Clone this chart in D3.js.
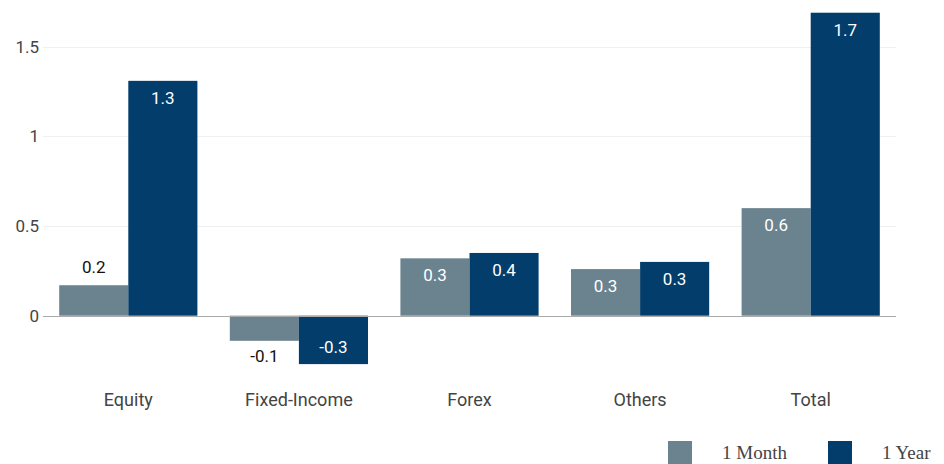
<!DOCTYPE html>
<html>
<head>
<meta charset="utf-8">
<script src="https://cdn.jsdelivr.net/npm/d3@7"></script>
<style>
  body { margin: 0; background: #fff; }
  svg { display: block; }
</style>
</head>
<body>
<svg></svg>
<script>
// chart data
const categories = ["Equity", "Fixed-Income", "Forex", "Others", "Total"];
const seriesNames = ["1 Month", "1 Year"];
const oneMonth = [0.17, -0.14, 0.32, 0.26, 0.6];
const oneYear = [1.31, -0.27, 0.35, 0.3, 1.69];
const monthLabels = ["0.2", "-0.1", "0.3", "0.3", "0.6"];
const yearLabels = ["1.3", "-0.3", "0.4", "0.3", "1.7"];
const yTicks = [0, 0.5, 1, 1.5];
const colors = ["#6b838f", "#033d6b"];

const rows = categories.map((c, i) => ({
  cat: c,
  vals: [
    { key: 0, v: oneMonth[i], label: monthLabels[i] },
    { key: 1, v: oneYear[i], label: yearLabels[i] }
  ]
}));

const W = 944, H = 464;
const margin = { top: 12, right: 48, bottom: 100, left: 43 };

const svg = d3.select("svg")
  .attr("width", W)
  .attr("height", H);

const x0 = d3.scaleBand()
  .domain(categories)
  .range([margin.left, W - margin.right])
  .paddingInner(0.19)
  .paddingOuter(0.095);

const x1 = d3.scaleBand()
  .domain([0, 1])
  .range([0, x0.bandwidth()]);

const y = d3.scaleLinear()
  .domain([-0.275, 1.694])
  .range([365, 12]);

// grid lines
svg.append("g")
  .selectAll("line")
  .data(yTicks.filter(t => t !== 0))
  .enter()
  .append("line")
  .attr("x1", margin.left)
  .attr("x2", W - margin.right)
  .attr("y1", d => Math.round(y(d)) + 0.5)
  .attr("y2", d => Math.round(y(d)) + 0.5)
  .attr("stroke", "#f0f0f0")
  .attr("stroke-width", 1);

// y tick labels
svg.append("g")
  .attr("transform", `translate(${margin.left},0)`)
  .call(d3.axisLeft(y).tickValues(yTicks).tickFormat(d3.format("")).tickSize(0).tickPadding(4))
  .call(g => g.select(".domain").remove())
  .selectAll("text")
  .attr("font-family", "Roboto, sans-serif")
  .attr("font-size", 17)
  .attr("fill", "#444");

// bars
const groups = svg.append("g")
  .selectAll("g")
  .data(rows)
  .enter()
  .append("g")
  .attr("transform", d => `translate(${x0(d.cat)},0)`);

groups.selectAll("rect")
  .data(d => d.vals)
  .enter()
  .append("rect")
  .attr("x", d => x1(d.key))
  .attr("width", x1.bandwidth())
  .attr("y", d => y(Math.max(0, d.v)))
  .attr("height", d => Math.abs(y(d.v) - y(0)))
  .attr("fill", d => colors[d.key]);

// value labels
groups.selectAll("text")
  .data(d => d.vals)
  .enter()
  .append("text")
  .attr("x", d => x1(d.key) + x1.bandwidth() / 2)
  .attr("y", d => {
    const h = Math.abs(y(d.v) - y(0));
    const inside = h > 35;
    if (d.v >= 0) return inside ? y(d.v) + 17 : y(d.v) - 18;
    return inside ? y(d.v) - 17 : y(d.v) + 15;
  })
  .attr("dy", "0.35em")
  .attr("text-anchor", "middle")
  .attr("font-family", "Roboto, sans-serif")
  .attr("font-size", 17)
  .attr("fill", d => Math.abs(y(d.v) - y(0)) > 35 ? "#fff" : "#111")
  .text(d => d.label);

// zero line
svg.append("line")
  .attr("x1", margin.left)
  .attr("x2", W - margin.right)
  .attr("y1", Math.round(y(0)) + 0.5)
  .attr("y2", Math.round(y(0)) + 0.5)
  .attr("stroke", "#aaa")
  .attr("stroke-width", 1);

// category labels
svg.append("g")
  .attr("transform", "translate(0,400)")
  .call(d3.axisBottom(x0).tickSize(0).tickPadding(0))
  .call(g => g.select(".domain").remove())
  .selectAll("text")
  .attr("dy", "0.35em")
  .attr("font-family", "Roboto, sans-serif")
  .attr("font-size", 18)
  .attr("fill", "#444");

// legend
const legend = svg.append("g")
  .selectAll("g")
  .data(seriesNames)
  .enter()
  .append("g")
  .attr("transform", (d, i) => `translate(${668 + i * 160},441)`);

legend.append("rect")
  .attr("width", 24)
  .attr("height", 23)
  .attr("fill", (d, i) => colors[i]);

legend.append("text")
  .attr("x", 54)
  .attr("y", 18)
  .attr("font-family", "'Liberation Serif', serif")
  .attr("font-size", 19)
  .attr("fill", "#444")
  .text(d => d);
</script>
</body>
</html>
